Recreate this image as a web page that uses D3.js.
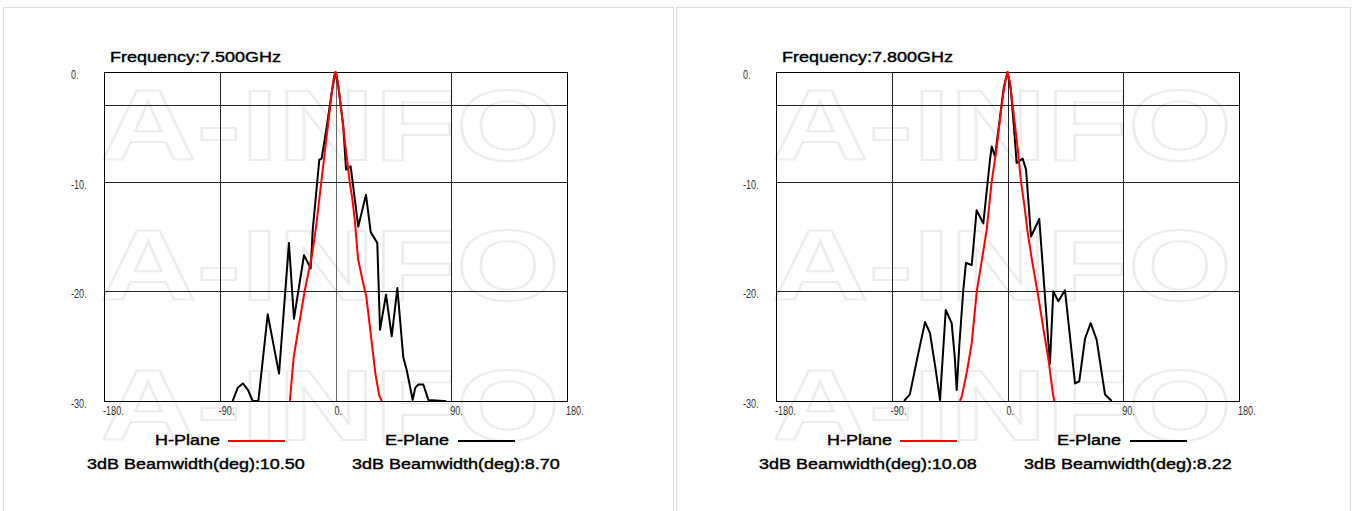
<!DOCTYPE html>
<html lang="en">
<head>
<meta charset="UTF-8">
<title>Antenna Pattern</title>
<script src="https://d3js.org/d3.v7.min.js"></script>
<style>
  body { margin: 0; background: #fff; }
  svg { display: block; font-family: "Liberation Sans", Arial, sans-serif; }
</style>
</head>
<body>
<svg width="1356" height="511"></svg>
<script>
// tick values
const xTicks = [-180, -90, 0, 90, 180];
const yTicks = [0, -10, -20, -30];
const yGrid = [-3, -10, -20];

// 7.5 GHz, [deg, dB]
const hPlane7500 = [[-35.5,-30],[-34,-28],[-32.5,-26],[-29,-23.5],[-24,-20],[-18,-16.5],[-15,-14],[-12,-11],[-8.5,-7.5],[-5,-4],[-2.5,-1.5],[-1,-0.3],[0,0],[1,-0.3],[2.5,-1.5],[5,-4],[8.5,-7.5],[11,-10],[13,-11.5],[15,-13.5],[17.5,-17],[21,-19],[24,-20.5],[27,-23.5],[31,-27.5],[34,-29.5],[36,-30]];
const ePlane7500 = [[-80,-30],[-76,-28.8],[-72,-28.4],[-68,-29],[-64.4,-30],[-60,-30],[-52.7,-22.1],[-43.9,-27.5],[-36.2,-15.6],[-32.3,-22.5],[-24.5,-16.7],[-19.3,-17.9],[-17.7,-14.4],[-12.6,-8.0],[-10.8,-7.9],[-6.8,-5],[-3,-1.9],[0,0],[2.2,-1.3],[6.1,-5],[8.2,-8.9],[11.8,-8.6],[17.7,-14.1],[23.7,-11.2],[27.4,-14.6],[32.5,-15.6],[34.6,-23.5],[39.3,-20.3],[43.7,-24.1],[48.1,-19.7],[52.7,-26],[55.4,-27.2],[60,-29.9],[62,-28.8],[64.4,-28.5],[68.3,-28.5],[72.2,-29.9],[84,-30],[86,-30]];

// 7.8 GHz
const hPlane7800 = [[-37,-30],[-35.6,-29.6],[-31.5,-27.3],[-27.8,-24.7],[-23.9,-20],[-20,-17.2],[-16.2,-14.4],[-12.3,-10],[-8.5,-7],[-4.5,-3],[-2,-1],[0,0],[2,-1],[4,-3],[7.5,-6.5],[10.5,-10],[13.5,-12.5],[15.4,-14.4],[19.5,-17.5],[24,-20.5],[28,-23.5],[31.7,-26.1],[35.6,-29.6],[36.5,-30]];
const ePlane7800 = [[-80.5,-30],[-75.9,-29.4],[-70,-26],[-64.1,-22.8],[-60.3,-23.8],[-56,-27],[-52.5,-29.9],[-48,-21.7],[-43.4,-22.9],[-41,-26],[-39.5,-29],[-37.5,-25],[-34.4,-19.9],[-32.3,-17.4],[-27.8,-17.6],[-24,-12.6],[-18.8,-13.8],[-13.6,-8.0],[-12.3,-6.8],[-9.7,-7.7],[-6,-4.3],[-3,-1.5],[0,0],[2.5,-1.5],[5,-5],[7.1,-8.3],[11.8,-7.9],[14.4,-8.9],[18.3,-15.0],[24.7,-13.4],[33,-26.6],[35.6,-20],[39.5,-20.9],[44.7,-19.9],[52.5,-28.4],[55.8,-28.2],[60.3,-24.3],[64.7,-22.9],[69.3,-24.4],[75.8,-29.4],[81,-30]];

const frequencies = ["7.500", "7.800"];
const hBeam = ["10.50", "10.08"];
const eBeam = ["8.70", "8.22"];

const svg = d3.select("svg");
const plotTop = 72, plotBottom = 401, plotW = 463;

function label(g, x, y, s, size, sx, fill, heavy) {
  const t = g.append("text")
    .attr("transform", `translate(${x},${y}) scale(${sx},1)`)
    .attr("font-size", size)
    .attr("fill", fill || "#000")
    .text(s);
  if (heavy) t.attr("stroke", fill || "#000").attr("stroke-width", heavy);
  return t;
}

const panels = [
  { px: 3, pw: 670, left: 104, h: hPlane7500, e: ePlane7500 },
  { px: 676, pw: 674, left: 776, h: hPlane7800, e: ePlane7800 }
];

panels.forEach((p, i) => {
  const g = svg.append("g");
  g.append("rect")
    .attr("x", p.px + 0.5).attr("y", 7.5)
    .attr("width", p.pw).attr("height", 600)
    .attr("fill", "#fff").attr("stroke", "#ddd");

  const x = d3.scaleLinear().domain([-180, 180]).range([p.left, p.left + plotW]);
  const y = d3.scaleLinear().domain([0, -30]).range([plotTop, plotBottom]);

  // watermark
  [160, 300, 440].forEach(b => {
    g.append("text")
      .attr("x", p.left - 4).attr("y", b)
      .attr("font-size", 100).attr("font-weight", "bold")
      .attr("textLength", 460).attr("lengthAdjust", "spacingAndGlyphs")
      .attr("fill", "none").attr("stroke", "#ededed").attr("stroke-width", 2)
      .text("A-INFO");
  });

  // grid
  g.selectAll(".vg").data(xTicks.slice(1, -1)).enter().append("line")
    .attr("x1", d => Math.round(x(d)) + 0.5).attr("x2", d => Math.round(x(d)) + 0.5)
    .attr("y1", plotTop).attr("y2", plotBottom).attr("stroke", d => d === 0 && i === 0 ? "#666" : "#222");
  g.selectAll(".hg").data(yGrid).enter().append("line")
    .attr("y1", d => Math.round(y(d)) + 0.5).attr("y2", d => Math.round(y(d)) + 0.5)
    .attr("x1", p.left).attr("x2", p.left + plotW).attr("stroke", "#222");
  g.append("rect")
    .attr("x", p.left + 0.5).attr("y", plotTop + 0.5)
    .attr("width", plotW).attr("height", plotBottom - plotTop)
    .attr("fill", "none").attr("stroke", "#000");

  // tick labels
  yTicks.forEach(t => label(g, p.left - 33, y(t) + 7, t + ".", 13, 0.7, "#333"));
  xTicks.forEach(t => label(g, x(t) - 1, 415, t + ".", 13, 0.7, "#333"));

  // curves
  const clipId = "clip" + i;
  g.append("clipPath").attr("id", clipId).append("rect")
    .attr("x", p.left).attr("y", plotTop - 2).attr("width", plotW).attr("height", plotBottom - plotTop + 2);
  const line = d3.line().x(d => x(d[0])).y(d => y(d[1]));
  g.append("path").datum(p.e).attr("d", line).attr("clip-path", `url(#${clipId})`)
    .attr("fill", "none").attr("stroke", "#000").attr("stroke-width", 2).attr("stroke-linejoin", "round");
  g.append("path").datum(p.h).attr("d", line).attr("clip-path", `url(#${clipId})`)
    .attr("fill", "none").attr("stroke", "#ff0000").attr("stroke-width", 2).attr("stroke-linejoin", "round");

  // title and legend
  label(g, p.left + 6, 62, "Frequency:" + frequencies[i] + "GHz", 15, 1.2, "#000", 0.4);
  label(g, p.left + 51, 445, "H-Plane", 15, 1.2, "#000", 0.4);
  g.append("line").attr("x1", p.left + 124).attr("x2", p.left + 181)
    .attr("y1", 441).attr("y2", 441).attr("stroke", "#ff0000").attr("stroke-width", 2);
  label(g, p.left + 281, 445, "E-Plane", 15, 1.2, "#000", 0.4);
  g.append("line").attr("x1", p.left + 354).attr("x2", p.left + 411)
    .attr("y1", 441).attr("y2", 441).attr("stroke", "#000").attr("stroke-width", 2);
  label(g, p.left - 17, 469, "3dB Beamwidth(deg):" + hBeam[i], 15, 1.2, "#000", 0.4);
  label(g, p.left + 248, 469, "3dB Beamwidth(deg):" + eBeam[i], 15, 1.2, "#000", 0.4);
});
</script>
</body>
</html>
